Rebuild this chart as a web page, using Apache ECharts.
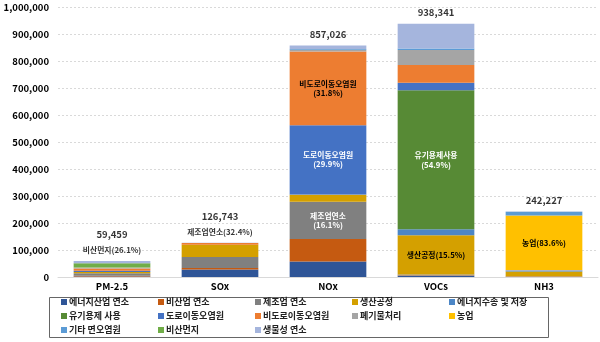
<!DOCTYPE html>
<html><head><meta charset="utf-8">
<script src="https://cdn.jsdelivr.net/npm/echarts@6/dist/echarts.min.js"></script>
<style>html,body{margin:0;padding:0;background:#fff}#c{width:600px;height:342px}</style>
</head><body><div id="c"></div>
<script>
const categories = ['PM-2.5', 'SOx', 'NOx', 'VOCs', 'NH3'];
const totals = [59459, 126743, 857026, 938341, 242227];
const yTicks = [0, 100000, 200000, 300000, 400000, 500000, 600000, 700000, 800000, 900000, 1000000];

const seriesNames = ['에너지산업 연소', '비산업 연소', '제조업 연소', '생산공정', '에너지수송 및 저장',
  '유기용제 사용', '도로이동오염원', '비도로이동오염원', '폐기물처리', '농업',
  '기타 면오염원', '비산먼지', '생물성 연소'];

const energyIndustry   = [1800, 28000, 57000, 3500, 0];
const nonIndustrial    = [2800, 5000, 84000, 2500, 1500];
const manufacturing    = [9000, 41065, 138000, 3000, 1000];
const productionProc   = [4500, 45000, 26000, 145400, 18000];
const energyTransport  = [100, 500, 1000, 22000, 3000];
const solventUse       = [0, 0, 0, 515150, 0];
const roadMobile       = [4500, 200, 256250, 28000, 500];
const nonRoadMobile    = [8500, 6000, 272500, 66000, 0];
const wasteTreatment   = [2500, 500, 7000, 55000, 1500];
const agriculture      = [1000, 0, 0, 0, 202500];
const otherArea        = [500, 0, 3000, 6000, 13227];
const fugitiveDust     = [15519, 0, 0, 0, 0];
const biomassBurning   = [8740, 478, 12276, 91791, 1000];

const seriesValues = [energyIndustry, nonIndustrial, manufacturing, productionProc, energyTransport,
  solventUse, roadMobile, nonRoadMobile, wasteTreatment, agriculture, otherArea, fugitiveDust, biomassBurning];

const colors = ['#2F5597', '#C55A11', '#808080', '#D4A000', '#4C86C6',
  '#578A35', '#4472C4', '#ED7D31', '#A5A5A5', '#FFC000',
  '#5B9BD5', '#70AD47', '#A5B5DD'];

// annotations above bars (category index -> text)
const aboveNotes = ['비산먼지(26.1%)', '제조업연소(32.4%)', '', '', ''];
// annotations inside segments: [seriesIndex, categoryIndex, text, textColor]
const insideNotes = [
  [7, 2, '비도로이동오염원\n(31.8%)', '#000'],
  [6, 2, '도로이동오염원\n(29.9%)', '#fff'],
  [2, 2, '제조업연소\n(16.1%)', '#fff'],
  [5, 3, '유기용제사용\n(54.9%)', '#fff'],
  [3, 3, '생산공정(15.5%)', '#000'],
  [9, 4, '농업(83.6%)', '#000']
];

const FONT = '"Noto Sans CJK KR", "Noto Sans", sans-serif';

const series = seriesNames.map((name, si) => ({
  name: name,
  type: 'bar',
  stack: 'total',
  barWidth: '71%',
  itemStyle: { color: colors[si] },
  data: seriesValues[si].map((v, ci) => {
    const note = insideNotes.find(n => n[0] === si && n[1] === ci);
    if (!note) return v;
    return {
      value: v,
      label: {
        show: true, position: 'inside', formatter: note[2], color: note[3],
        fontFamily: FONT, fontSize: 7.8, lineHeight: 9.5, fontWeight: 'bold'
      }
    };
  })
}));

series.push({
  name: 'total',
  type: 'scatter',
  symbolSize: 0,
  silent: true,
  z: 10,
  data: totals,
  label: {
    show: true,
    position: 'top',
    distance: 3,
    fontFamily: FONT,
    formatter: p => {
      const t = '{t|' + totals[p.dataIndex].toLocaleString('en-US') + '}';
      const a = aboveNotes[p.dataIndex];
      return a ? t + '\n{a|' + a + '}' : t;
    },
    rich: {
      t: { fontFamily: FONT, fontSize: 9.5, fontWeight: 'bold', color: '#000', lineHeight: 17 },
      a: { fontFamily: FONT, fontSize: 7.8, fontWeight: 'bold', color: '#000', lineHeight: 15 }
    }
  }
});

const chart = echarts.init(document.getElementById('c'), null, { renderer: 'canvas' });
chart.setOption({
  animation: false,
  backgroundColor: '#fff',
  grid: { left: 58, right: 2, top: 7, bottom: 65 },
  xAxis: {
    type: 'category',
    data: categories,
    axisTick: { show: false },
    axisLine: { lineStyle: { color: '#D9D9D9' } },
    axisLabel: { color: '#000', fontFamily: FONT, fontSize: 9.5, fontWeight: 'bold', margin: 5 }
  },
  yAxis: {
    type: 'value',
    min: yTicks[0],
    max: yTicks[yTicks.length - 1],
    interval: yTicks[1] - yTicks[0],
    axisLine: { show: false },
    axisTick: { show: false },
    splitLine: { lineStyle: { color: '#D9D9D9', type: [2, 2] } },
    axisLabel: {
      color: '#000', fontFamily: FONT, fontSize: 9.5, fontWeight: 'bold', margin: 9,
      formatter: v => v.toLocaleString('en-US')
    }
  },
  legend: {
    data: seriesNames,
    left: 61,
    top: 296,
    width: 505,
    padding: 0,
    itemGap: 2,
    itemWidth: 6,
    itemHeight: 6,
    icon: 'rect',
    textStyle: { fontFamily: FONT, fontSize: 9, color: '#222', width: 87, lineHeight: 12, fontWeight: 'bold', padding: [0, 0, 0, -3] }
  },
  graphic: [{
    type: 'rect',
    shape: { x: 49.5, y: 297.5, width: 499, height: 40 },
    style: { fill: 'none', stroke: '#666', lineWidth: 1 },
    silent: true
  }],
  series: series
});
</script>
</body></html>
